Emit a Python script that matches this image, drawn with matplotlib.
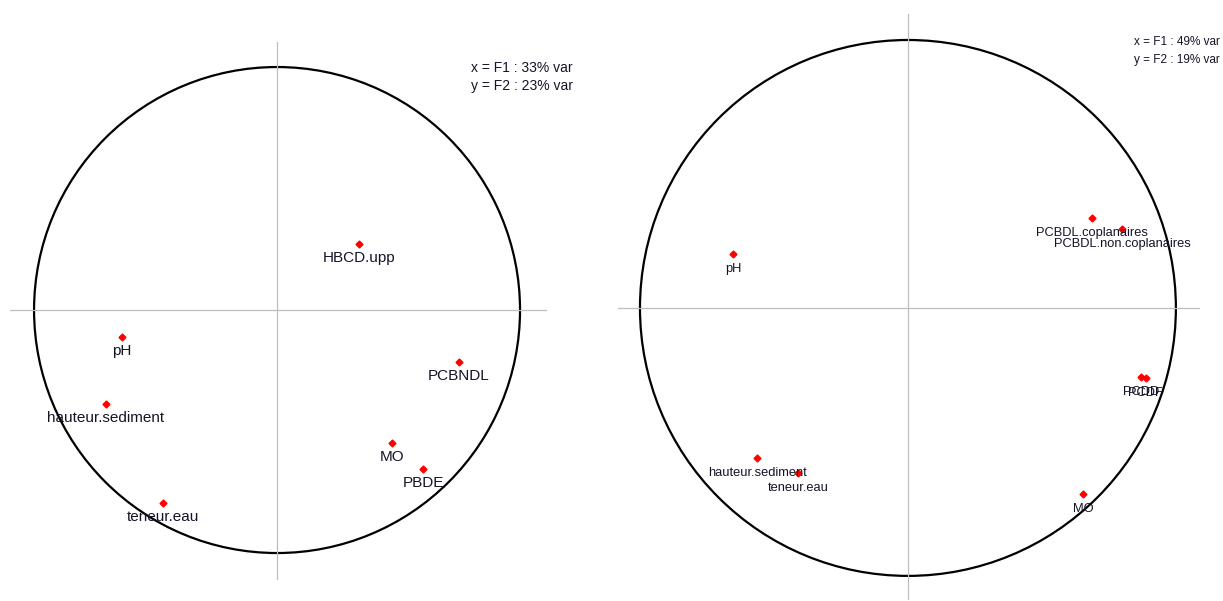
import matplotlib
matplotlib.use('Agg')
import matplotlib.pyplot as plt
from matplotlib.patches import Circle

plt.rcParams['font.family'] = ['Liberation Sans', 'DejaVu Sans']

# left correlation circle (F1 33%, F2 23%)
vars_l = ['HBCD.upp', 'pH', 'hauteur.sediment', 'teneur.eau', 'PCBNDL', 'MO', 'PBDE']
x_l = [0.337, -0.638, -0.704, -0.469, 0.749, 0.473, 0.601]
y_l = [0.272, -0.111, -0.387, -0.794, -0.214, -0.547, -0.654]
txt_l = ['x = F1 : 33% var', 'y = F2 : 23% var']

# right correlation circle (F1 49%, F2 19%)
vars_r = ['PCBDL.coplanaires', 'PCBDL.non.coplanaires', 'PCDD', 'PCDF', 'pH',
          'hauteur.sediment', 'teneur.eau', 'MO']
x_r = [0.687, 0.799, 0.869, 0.888, -0.653, -0.563, -0.410, 0.653]
y_r = [0.336, 0.295, -0.257, -0.261, 0.201, -0.560, -0.616, -0.694]
txt_r = ['x = F1 : 49% var', 'y = F2 : 19% var']

W, H = 1223, 601
fig = plt.figure(figsize=(W / 100, H / 100), dpi=100)


def corcircle(box, xlim, ylim, names, xs, ys, fs, off):
    ax = fig.add_axes(box)
    ax.set_xlim(xlim)
    ax.set_ylim(ylim)
    ax.axhline(0, color='#bebebe', lw=0.9)
    ax.axvline(0, color='#bebebe', lw=0.9)
    ax.add_patch(Circle((0, 0), 1, fill=False, color='black', lw=1.6))
    ax.plot(xs, ys, 'D', color='red', ms=3.5, mec='red')
    for n, a, b in zip(names, xs, ys):
        ax.annotate(n, (a, b), xytext=(0, -off), textcoords='offset pixels',
                    ha='center', va='center', fontsize=fs, color='#141428')
    ax.set_axis_off()
    return ax


corcircle([10 / W, 21 / H, 537 / W, 538 / H], (-1.099, 1.111), (-1.111, 1.103),
          vars_l, x_l, y_l, 11, 14)
corcircle([618 / W, 1 / H, 582 / W, 586 / H], (-1.082, 1.090), (-1.090, 1.097),
          vars_r, x_r, y_r, 9.3, 15)

fig.text(573 / W, 1 - 68 / H, txt_l[0], ha='right', va='center', fontsize=10, color='#141428')
fig.text(573 / W, 1 - 86 / H, txt_l[1], ha='right', va='center', fontsize=10, color='#141428')
fig.text(1220 / W, 1 - 42 / H, txt_r[0], ha='right', va='center', fontsize=8.5, color='#141428')
fig.text(1220 / W, 1 - 60 / H, txt_r[1], ha='right', va='center', fontsize=8.5, color='#141428')

fig.savefig('out.png', dpi=100, facecolor='white')
